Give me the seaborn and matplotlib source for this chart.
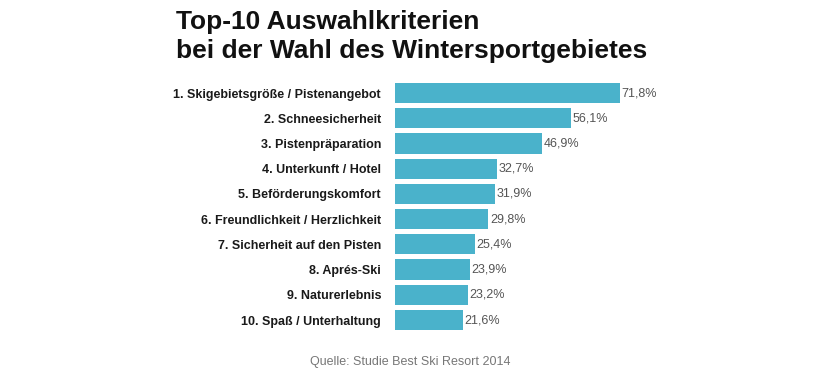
import matplotlib
matplotlib.use("Agg")
import matplotlib.pyplot as plt
import seaborn as sns
import pandas as pd

categories = ["1. Skigebietsgröße / Pistenangebot", "2. Schneesicherheit", "3. Pistenpräparation",
              "4. Unterkunft / Hotel", "5. Beförderungskomfort", "6. Freundlichkeit / Herzlichkeit",
              "7. Sicherheit auf den Pisten", "8. Aprés-Ski", "9. Naturerlebnis", "10. Spaß / Unterhaltung"]
values = [71.8, 56.1, 46.9, 32.7, 31.9, 29.8, 25.4, 23.9, 23.2, 21.6]
value_labels = ["71,8%", "56,1%", "46,9%", "32,7%", "31,9%", "29,8%", "25,4%", "23,9%", "23,2%", "21,6%"]

sns.set_theme(style="white")
plt.rcParams['font.family'] = ['Liberation Sans', 'DejaVu Sans']

df = pd.DataFrame({"cat": categories, "val": values})
fig = plt.figure(figsize=(8.2, 3.69), dpi=100)
ax = fig.add_axes([395/820, 0.0986, 325/820, 0.6834])
sns.barplot(data=df, x="val", y="cat", color="#4AB2CB", saturation=1, width=0.8, ax=ax,
            orient="h", linewidth=0)
ax.set_xlim(0, 325/3.134)
ax.set_ylim(9.5, -0.5)
ax.set_xlabel("")
ax.set_ylabel("")
ax.set_xticks([])
ax.tick_params(axis="y", length=0, pad=10)
for lbl in ax.get_yticklabels():
    lbl.set_fontweight("bold")
    lbl.set_fontsize(9)
    lbl.set_color("#1a1a1a")
sns.despine(ax=ax, left=True, bottom=True)
for i, (v, t) in enumerate(zip(values, value_labels)):
    ax.text(v + 0.5, i, t, va="center", ha="left", fontsize=9, color="#555555")

fig.text(176/820, 1 - 22/369, "Top-10 Auswahlkriterien", fontsize=19, fontweight="bold",
         ha="left", va="center", color="#111111")
fig.text(176/820, 1 - 51/369, "bei der Wahl des Wintersportgebietes", fontsize=19, fontweight="bold",
         ha="left", va="center", color="#111111")
fig.text(410/820, 1 - 362/369, "Quelle: Studie Best Ski Resort 2014", fontsize=9, color="#777777",
         ha="center", va="center")

fig.savefig("out.png", dpi=100)
